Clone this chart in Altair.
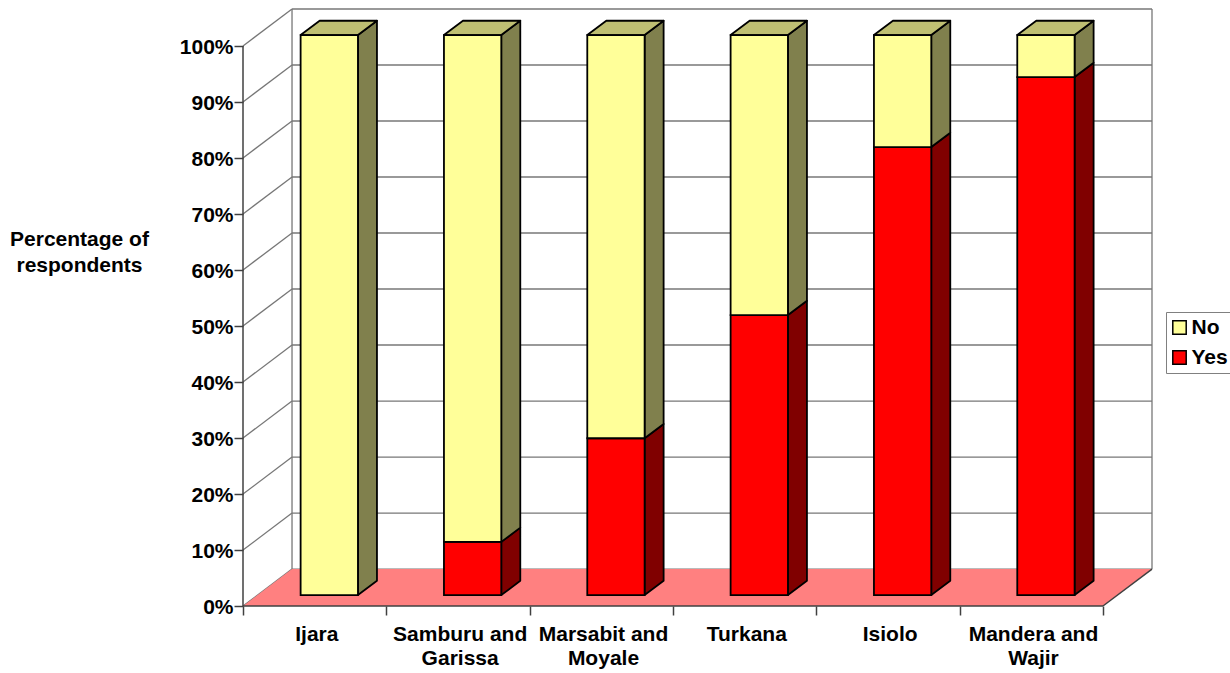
import altair as alt
import pandas as pd

# Share of respondents answering Yes / No per district
districts = ["Ijara", "Samburu and\nGarissa", "Marsabit and\nMoyale", "Turkana", "Isiolo", "Mandera and\nWajir"]
yes_values = [0, 9.5, 28, 50, 80, 92.5]
no_values = [100, 90.5, 72, 50, 20, 7.5]
grid_levels = [0, 10, 20, 30, 40, 50, 60, 70, 80, 90, 100]

# Oblique projection of the 3-D box, in axis units
WALL_DX, WALL_DY = 0.342, 6.6
BAR_DX, BAR_DY = 0.1326, 2.55
BAR_SHIFT_X, BAR_SHIFT_Y = 0.102, 1.95
BAR_HALF = 0.2
N = len(districts)

FILLS = {
    "Yes": {"front": "#FF0000", "side": "#800000", "top": "#800000"},
    "No": {"front": "#FFFF99", "side": "#80804D", "top": "#BFBF73"},
}
FONT = "Liberation Sans"
FONT_SIZE = 21

front_rows, side_rows, top_rows = [], [], []
for i, (yes, no) in enumerate(zip(yes_values, no_values)):
    left = i + 0.5 + BAR_SHIFT_X - BAR_HALF
    right = i + 0.5 + BAR_SHIFT_X + BAR_HALF
    base = 0
    for series, value in (("Yes", yes), ("No", no)):
        if value > 0:
            low = base + BAR_SHIFT_Y
            high = base + value + BAR_SHIFT_Y
            key = f"{i}-{series}"
            front_rows.append({"x": left, "x2": right, "y": low, "y2": high, "series": series})
            side_rows += [
                {"x": right, "y": low, "y2": high, "key": key, "fill": FILLS[series]["side"]},
                {"x": right + BAR_DX, "y": low + BAR_DY, "y2": high + BAR_DY, "key": key, "fill": FILLS[series]["side"]},
            ]
            if base + value >= 100:
                top_rows += [
                    {"y": high, "x": left, "x2": right, "key": key, "fill": FILLS[series]["top"]},
                    {"y": high + BAR_DY, "x": left + BAR_DX, "x2": right + BAR_DX, "key": key, "fill": FILLS[series]["top"]},
                ]
        base += value

wall_rows = []
for level in grid_levels:
    wall_rows.append({"x": WALL_DX, "x2": N + WALL_DX, "y": level + WALL_DY, "y2": level + WALL_DY})
    wall_rows.append({"x": 0, "x2": WALL_DX, "y": level, "y2": level + WALL_DY})
wall_rows.append({"x": WALL_DX, "x2": WALL_DX, "y": WALL_DY, "y2": 100 + WALL_DY})
wall_rows.append({"x": N + WALL_DX, "x2": N + WALL_DX, "y": WALL_DY, "y2": 100 + WALL_DY})

floor_rows = [
    {"y": 0, "x": 0, "x2": N},
    {"y": WALL_DY, "x": WALL_DX, "x2": N + WALL_DX},
]
edge_rows = [
    {"x": 0, "x2": 0, "y": 0, "y2": 100},
    {"x": 0, "x2": N, "y": 0, "y2": 0},
    {"x": N, "x2": N + WALL_DX, "y": 0, "y2": WALL_DY},
]
label_rows = [{"x": i + 0.515, "y": -3.3, "label": name} for i, name in enumerate(districts)]

x_scale = alt.Scale(domain=[0, N + WALL_DX], nice=False, zero=False)
y_scale = alt.Scale(domain=[0, 100 + WALL_DY], nice=False, zero=False)

# Percentage labels on the left, category boundary ticks along the front edge
x_axis = alt.Axis(
    values=list(range(N + 1)), labels=False, domain=False, grid=False, title=None,
    tickColor="#404040", tickSize=9, tickWidth=1.5,
)
y_axis = alt.Axis(
    values=grid_levels, labelExpr="datum.value + '%'", domain=False, grid=False,
    labelFont=FONT, labelFontSize=FONT_SIZE, labelFontWeight="bold", labelColor="black",
    labelPadding=1, labelOffset=1.5, tickColor="#404040", tickSize=9, tickWidth=1.5,
    title=["Percentage of", "respondents"], titleFont=FONT, titleFontSize=21,
    titleFontWeight="bold", titleColor="black", titleAngle=0, titleAlign="center",
    titleBaseline="top", titleX=-164, titleY=219, titleLineHeight=26,
)


def X(field="x"):
    return alt.X(f"{field}:Q", scale=x_scale, axis=x_axis)


def Y(field="y"):
    return alt.Y(f"{field}:Q", scale=y_scale, axis=y_axis, stack=False)


wall = alt.Chart(pd.DataFrame(wall_rows)).mark_rule(color="#777777", strokeWidth=1.3).encode(
    x=X(), x2="x2:Q", y=Y(), y2="y2:Q"
)
floor = alt.Chart(pd.DataFrame(floor_rows)).mark_area(orient="horizontal", color="#FF8080").encode(
    y=Y(), x=X(), x2="x2:Q"
)
edges = alt.Chart(pd.DataFrame(edge_rows)).mark_rule(color="#404040", strokeWidth=1.5).encode(
    x=X(), x2="x2:Q", y=Y(), y2="y2:Q"
)
sides = alt.Chart(pd.DataFrame(side_rows)).mark_area(
    orient="vertical", stroke="black", strokeWidth=1.8, strokeJoin="round"
).encode(
    x=X(), y=Y(), y2="y2:Q", detail="key:N", fill=alt.Fill("fill:N", scale=None)
)
tops = alt.Chart(pd.DataFrame(top_rows)).mark_area(
    orient="horizontal", stroke="black", strokeWidth=1.8, strokeJoin="round"
).encode(
    y=Y(), x=X(), x2="x2:Q", detail="key:N", fill=alt.Fill("fill:N", scale=None)
)
fronts = alt.Chart(pd.DataFrame(front_rows)).mark_rect(stroke="black", strokeWidth=1.8).encode(
    x=X(), x2="x2:Q", y=Y(), y2="y2:Q",
    fill=alt.Fill(
        "series:N",
        scale=alt.Scale(domain=["No", "Yes"], range=[FILLS["No"]["front"], FILLS["Yes"]["front"]]),
        legend=alt.Legend(
            title=None, orient="none", legendX=923, legendY=303, padding=5,
            strokeColor="#808080", fillColor="white", symbolType="square", symbolSize=180,
            symbolOffset=-2, symbolStrokeColor="black", symbolStrokeWidth=1.5, labelFont=FONT,
            labelFontSize=FONT_SIZE, labelFontWeight="bold", labelColor="black",
            labelOffset=1.5, rowPadding=8,
        ),
    ),
)
labels = alt.Chart(pd.DataFrame(label_rows)).mark_text(
    font=FONT, fontSize=FONT_SIZE, fontWeight="bold", color="black",
    baseline="top", align="center", lineBreak="\n", lineHeight=24,
).encode(x=X(), y=Y(), text="label:N")

chart = alt.layer(wall, floor, edges, sides, tops, fronts, labels).resolve_scale(
    fill="independent"
).properties(
    width=909, height=597,
    padding={"left": 243, "top": 9, "right": 78, "bottom": 67},
    autosize=alt.AutoSizeParams(type="none"),
    background="white",
).configure_view(stroke=None)

chart.save("out.html", embed_options={"renderer": "svg", "actions": False})
